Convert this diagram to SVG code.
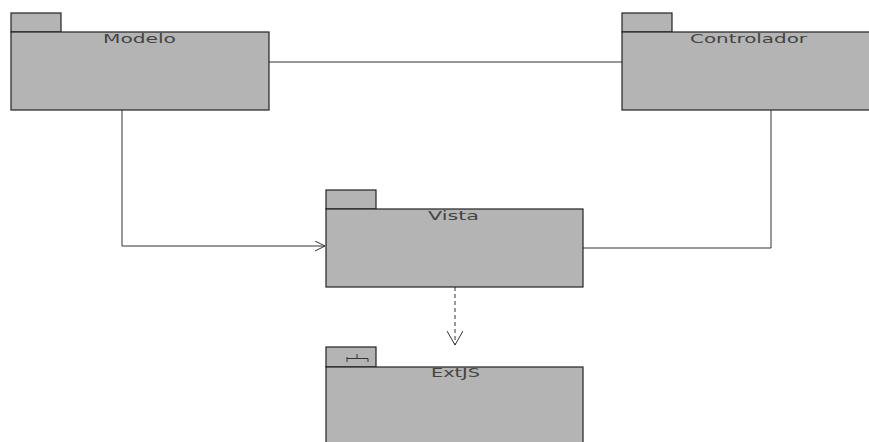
<svg xmlns="http://www.w3.org/2000/svg" width="869" height="442" viewBox="0 0 869 442">
<defs>
<style>
.box{fill:#b4b4b4;stroke:#222;stroke-width:1.2}
.lbl{font-family:"DejaVu Sans",sans-serif;font-size:13px;fill:#444}
.conn{fill:none;stroke:#333;stroke-width:1}
</style>
<marker id="open" markerWidth="12" markerHeight="12" refX="10" refY="5" orient="auto" markerUnits="userSpaceOnUse">
<path d="M0,0 L10,5 L0,10" fill="none" stroke="#333" stroke-width="1"/>
</marker>
<marker id="openv" markerWidth="16" markerHeight="16" refX="14" refY="8" orient="auto" markerUnits="userSpaceOnUse">
<path d="M0,0 L14,8 L0,16" fill="none" stroke="#333" stroke-width="1"/>
</marker>
</defs>
<rect width="869" height="442" fill="#fff"/>
<g id="connectors">
<line class="conn" x1="269" y1="62" x2="622" y2="62"/>
<polyline class="conn" points="122,110 122,246 325,246" marker-end="url(#open)"/>
<polyline class="conn" points="771,110 771,248 583,248"/>
<line class="conn" x1="455" y1="287" x2="455" y2="345" stroke-dasharray="4,3" marker-end="url(#openv)"/>
</g>
<g id="Modelo">
<rect class="box" x="11" y="13" width="50" height="19"/>
<rect class="box" x="11" y="32" width="258" height="78"/>
<text class="lbl" x="103" y="43" textLength="73" lengthAdjust="spacingAndGlyphs">Modelo</text>
</g>
<g id="Controlador">
<rect class="box" x="622" y="13" width="50" height="19"/>
<rect class="box" x="622" y="32" width="260" height="78"/>
<text class="lbl" x="690" y="43" textLength="117" lengthAdjust="spacingAndGlyphs">Controlador</text>
</g>
<g id="Vista">
<rect class="box" x="326" y="190" width="50" height="19"/>
<rect class="box" x="326" y="209" width="257" height="78"/>
<text class="lbl" x="428" y="220" textLength="51" lengthAdjust="spacingAndGlyphs">Vista</text>
</g>
<g id="ExtJS">
<rect class="box" x="326" y="347" width="50" height="20"/>
<path d="M347,362 V357 M347,358.5 H368 M357,358.5 V354 M368,358.5 V362" fill="none" stroke="#333" stroke-width="1"/>
<rect class="box" x="326" y="367" width="257" height="80"/>
<text class="lbl" x="431" y="377" textLength="49" lengthAdjust="spacingAndGlyphs">ExtJS</text>
</g>
</svg>
